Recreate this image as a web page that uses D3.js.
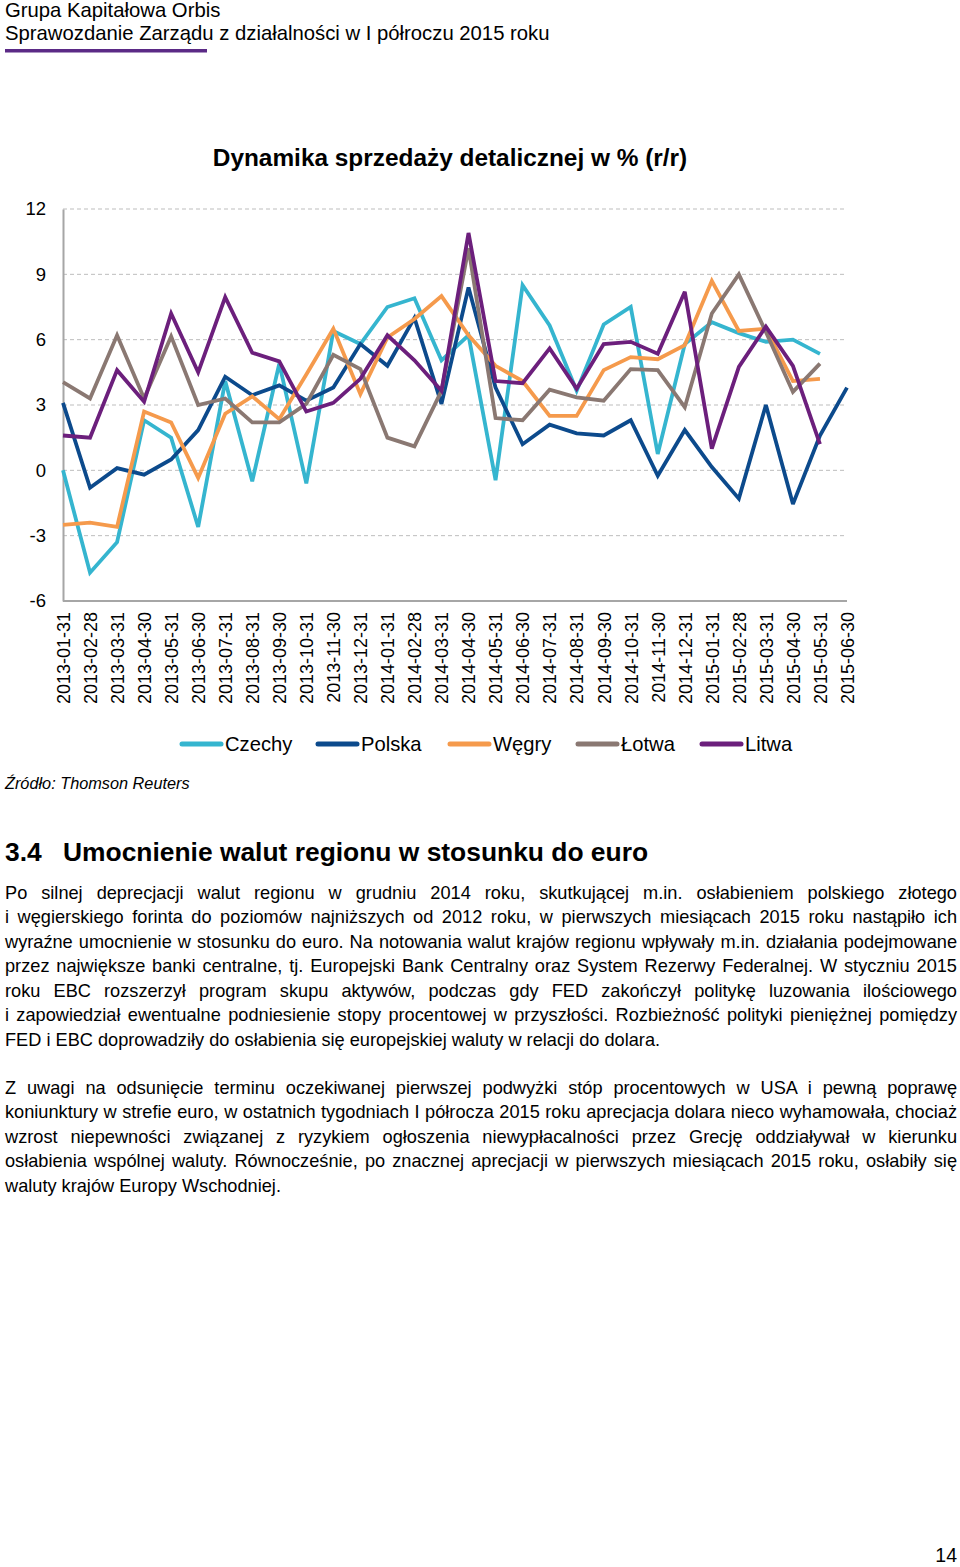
<!DOCTYPE html>
<html>
<head>
<meta charset="utf-8">
<script src="https://cdn.jsdelivr.net/npm/d3@7"></script>
<style>
  html, body { margin: 0; padding: 0; background: #fff; }
  body { width: 960px; height: 1567px; position: relative; overflow: hidden; font-family: "Liberation Sans", Arial, sans-serif; color: #000; }
  svg { position: absolute; left: 0; top: 0; }
  .para { position: absolute; left: 5px; width: 952px; font-size: 18.2px; line-height: 24.45px; }
  .para div { text-align: justify; text-align-last: justify; white-space: nowrap; }
  .para div.last { text-align-last: left; }
</style>
</head>
<body>
<svg id="chart" width="960" height="1567"></svg>
<div class="para" id="p1" style="top:881px"></div>
<div class="para" id="p2" style="top:1076px"></div>
<script>
// ---- data ----
const months = ["2013-01-31","2013-02-28","2013-03-31","2013-04-30","2013-05-31","2013-06-30","2013-07-31","2013-08-31","2013-09-30","2013-10-31","2013-11-30","2013-12-31","2014-01-31","2014-02-28","2014-03-31","2014-04-30","2014-05-31","2014-06-30","2014-07-31","2014-08-31","2014-09-30","2014-10-31","2014-11-30","2014-12-31","2015-01-31","2015-02-28","2015-03-31","2015-04-30","2015-05-31","2015-06-30"];
const czechy = [0.0,-4.7,-3.3,2.3,1.5,-2.6,4.1,-0.5,4.9,-0.6,6.4,5.8,7.5,7.9,5.05,6.2,-0.45,8.5,6.65,3.65,6.7,7.5,0.75,5.8,6.8,6.3,5.9,6.0,5.35,null];
const polska = [3.1,-0.8,0.1,-0.2,0.5,1.85,4.3,3.45,3.9,3.2,3.8,5.8,4.8,7.0,3.05,8.4,3.8,1.2,2.1,1.7,1.6,2.3,-0.25,1.85,0.15,-1.3,3.0,-1.55,1.6,3.8];
const wegry = [-2.5,-2.4,-2.6,2.7,2.2,-0.35,2.6,3.4,2.35,4.4,6.5,3.5,6.1,6.95,8.0,6.2,4.8,4.1,2.5,2.5,4.6,5.2,5.1,5.75,8.7,6.4,6.5,4.1,4.2,null];
const lotwa = [4.05,3.3,6.2,3.3,6.15,3.0,3.3,2.2,2.2,3.05,5.3,4.65,1.5,1.1,3.65,10.2,2.4,2.3,3.7,3.35,3.2,4.65,4.6,2.9,7.2,9.0,6.35,3.6,4.9,null];
const litwa = [1.6,1.5,4.6,3.15,7.2,4.5,7.95,5.4,5.0,2.7,3.1,4.2,6.2,5.05,3.65,10.9,4.1,4.0,5.6,3.75,5.8,5.9,5.35,8.2,1.0,4.75,6.6,4.8,1.2,null];
const seriesNames = ["Czechy","Polska","Węgry","Łotwa","Litwa"];
const seriesColors = ["#35b5cf","#0c4a8c","#f59a4c","#8a7872","#6c1f7c"];
const yTicks = [-6,-3,0,3,6,9,12];

const paragraph1 = [
  "Po silnej deprecjacji walut regionu w grudniu 2014 roku, skutkującej m.in. osłabieniem polskiego złotego",
  "i węgierskiego forinta do poziomów najniższych od 2012 roku, w pierwszych miesiącach 2015 roku nastąpiło ich",
  "wyraźne umocnienie w stosunku do euro. Na notowania walut krajów regionu wpływały m.in. działania podejmowane",
  "przez największe banki centralne, tj. Europejski Bank Centralny oraz System Rezerwy Federalnej. W styczniu 2015",
  "roku EBC rozszerzył program skupu aktywów, podczas gdy FED zakończył politykę luzowania ilościowego",
  "i zapowiedział ewentualne podniesienie stopy procentowej w przyszłości. Rozbieżność polityki pieniężnej pomiędzy",
  "FED i EBC doprowadziły do osłabienia się europejskiej waluty w relacji do dolara."
];
const paragraph2 = [
  "Z uwagi na odsunięcie terminu oczekiwanej pierwszej podwyżki stóp procentowych w USA i pewną poprawę",
  "koniunktury w strefie euro, w ostatnich tygodniach I półrocza 2015 roku aprecjacja dolara nieco wyhamowała, chociaż",
  "wzrost niepewności związanej z ryzykiem ogłoszenia niewypłacalności przez Grecję oddziaływał w kierunku",
  "osłabienia wspólnej waluty. Równocześnie, po znacznej aprecjacji w pierwszych miesiącach 2015 roku, osłabiły się",
  "waluty krajów Europy Wschodniej."
];

const seriesData = [czechy, polska, wegry, lotwa, litwa];

// ---- drawing ----
const svg = d3.select("#chart");
const font = "Liberation Sans, Arial, sans-serif";

// header
svg.append("text").attr("x", 5).attr("y", 17).attr("font-family", font).attr("font-size", 20.3).text("Grupa Kapitałowa Orbis");
svg.append("text").attr("x", 5).attr("y", 40).attr("font-family", font).attr("font-size", 20.3).text("Sprawozdanie Zarządu z działalności w I półroczu 2015 roku");
svg.append("rect").attr("x", 5).attr("y", 49).attr("width", 202).attr("height", 3.5).attr("fill", "#5b2a86");

// title
svg.append("text").attr("x", 450).attr("y", 166).attr("text-anchor", "middle").attr("font-family", font)
  .attr("font-size", 24.4).attr("font-weight", "bold").text("Dynamika sprzedaży detalicznej w % (r/r)");

const x = d3.scalePoint().domain(months).range([63, 847]);
const y = d3.scaleLinear().domain([-6, 12]).range([601, 209]);

// grid
svg.append("g").selectAll("line").data(yTicks.filter(t => t > -6)).join("line")
  .attr("x1", 63).attr("x2", 847).attr("y1", d => y(d)).attr("y2", d => y(d))
  .attr("stroke", "#bdbdbd").attr("stroke-width", 1).attr("stroke-dasharray", "4,3");

// y axis
const yAxis = svg.append("g").attr("transform", "translate(63,0)")
  .call(d3.axisLeft(y).tickValues(yTicks).tickFormat(d => String(d)).tickSize(0).tickPadding(17));
yAxis.select(".domain").attr("stroke", "#a6a6a6").attr("stroke-width", 2);
yAxis.selectAll("text").attr("font-family", font).attr("font-size", 18.5).attr("fill", "#000");

// x axis
const xAxis = svg.append("g").attr("transform", "translate(0,601)")
  .call(d3.axisBottom(x).tickSize(0).tickPadding(0));
xAxis.select(".domain").attr("stroke", "#a6a6a6").attr("stroke-width", 2).attr("d", "M63,0H847");
xAxis.selectAll("text").attr("font-family", font).attr("font-size", 18).attr("fill", "#000")
  .attr("text-anchor", "end").attr("transform", "rotate(-90)").attr("x", -11).attr("y", 0).attr("dy", "0.35em");

// lines
const line = d3.line().defined(d => d[1] != null).x(d => x(d[0])).y(d => y(d[1]));
seriesData.forEach((s, k) => {
  svg.append("path").datum(months.map((m, i) => [m, s[i]]))
    .attr("d", line).attr("fill", "none").attr("stroke", seriesColors[k])
    .attr("stroke-width", 3.8).attr("stroke-linejoin", "miter").attr("stroke-miterlimit", 3);
});

// legend
const legendX = [182, 318, 450, 578, 702];
const lg = svg.append("g");
seriesNames.forEach((n, k) => {
  lg.append("line").attr("x1", legendX[k]).attr("x2", legendX[k] + 39).attr("y1", 744).attr("y2", 744)
    .attr("stroke", seriesColors[k]).attr("stroke-width", 5).attr("stroke-linecap", "round");
  lg.append("text").attr("x", legendX[k] + 43).attr("y", 751).attr("font-family", font).attr("font-size", 20.2).text(n);
});

svg.append("text").attr("x", 5).attr("y", 789).attr("font-family", font).attr("font-size", 16.3)
  .attr("font-style", "italic").text("Źródło: Thomson Reuters");

// section heading
svg.append("text").attr("x", 5).attr("y", 861).attr("font-family", font).attr("font-size", 26.4).attr("font-weight", "bold").text("3.4");
svg.append("text").attr("x", 63).attr("y", 861).attr("font-family", font).attr("font-size", 26.4).attr("font-weight", "bold").text("Umocnienie walut regionu w stosunku do euro");

// page number
svg.append("text").attr("x", 957).attr("y", 1562).attr("text-anchor", "end").attr("font-family", font).attr("font-size", 19.5).text("14");

// paragraphs
function fillPara(id, lines) {
  d3.select(id).selectAll("div").data(lines).join("div")
    .attr("class", (d, i) => i === lines.length - 1 ? "last" : null)
    .text(d => d);
}
fillPara("#p1", paragraph1);
fillPara("#p2", paragraph2);
</script>
</body>
</html>
